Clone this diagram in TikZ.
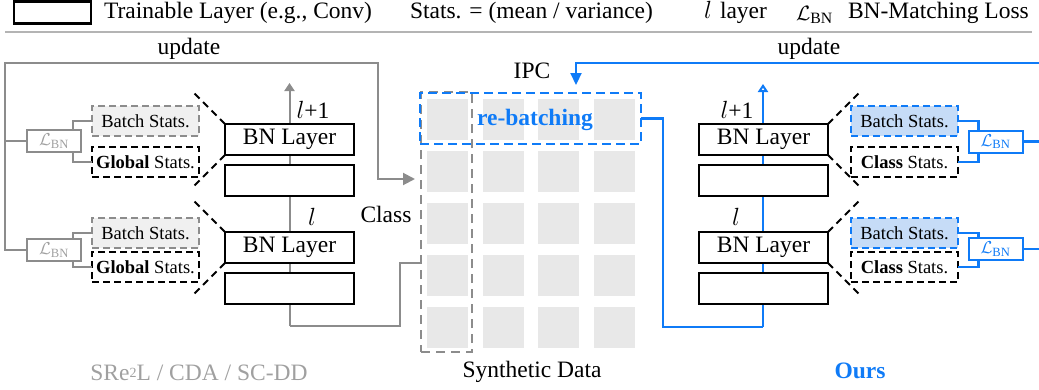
\documentclass[tikz,border=0pt]{standalone}
\usepackage{fontspec}
\setmainfont{Liberation Serif}
\usetikzlibrary{arrows.meta}
\definecolor{ublue}{HTML}{0F7BF7}
\definecolor{lgray}{HTML}{8C8C8C}
\definecolor{tgray}{HTML}{A0A0A0}
\definecolor{sqgray}{HTML}{E8E8E8}
\definecolor{bgray}{HTML}{F0F0F0}
\definecolor{lblue}{HTML}{C6DCF7}
\definecolor{sepgray}{HTML}{B4B4B4}
\newcommand{\bigf}{\fontsize{23.5}{28}\selectfont}
\newcommand{\smf}{\fontsize{18.5}{22}\selectfont}
\newcommand{\LBN}{$\mathcal{L}_{\mathrm{BN}}$}
\begin{document}
\begin{tikzpicture}[x=1pt,y=-1pt,
  every node/.style={inner sep=0pt, outer sep=0pt},
  txt/.style={font=\bigf, anchor=base},
  layerbox/.style={draw=black, fill=white, line width=2.6pt, minimum width=129pt, minimum height=31pt, anchor=north west, font=\bigf},
  statbox/.style={line width=2pt, dash pattern=on 7pt off 4pt, minimum width=107pt, minimum height=30pt, anchor=north west, font=\smf},
  graystat/.style={statbox, draw=lgray, fill=bgray},
  blackstat/.style={statbox, draw=black, fill=white},
  bluestat/.style={statbox, draw=ublue, fill=lblue},
  lossbox/.style={draw, line width=2pt, minimum width=54pt, minimum height=22pt, font=\fontsize{18}{20}\selectfont},
  grayloss/.style={lossbox, draw=lgray, text=tgray},
  blueloss/.style={lossbox, draw=ublue, text=ublue},
  sq/.style={fill=sqgray, minimum width=41pt, minimum height=41pt, anchor=north west},
  grayline/.style={draw=lgray, line width=2pt},
  blueline/.style={draw=ublue, line width=2.2pt},
  zoomline/.style={draw=black, line width=2pt, dash pattern=on 7pt off 5pt}
]
\useasboundingbox (0,0) rectangle (1039,389);

% ---------- legend ----------
\node[layerbox, minimum width=77pt, minimum height=22pt] (legbox) at (14,1.5) {};
\node[txt, anchor=base west] (legtrain) at (104,18) {Trainable Layer (e.g., Conv)};
\node[txt, anchor=base west] (legstats) at (410,18) {Stats. = (mean / variance)};
\node[txt, anchor=base west] (legl) at (704,18) {$l$};
\node[txt, anchor=base west] (leglayer) at (720,18) {layer};
\node[txt, anchor=base west, font=\fontsize{22.5}{26}\selectfont] (legloss) at (796,20) {\LBN};
\node[txt, anchor=base west] (leglosstxt) at (848,18) {BN-Matching Loss};
\draw[sepgray, line width=1.4pt] (5,32) -- (1032,32);

% ---------- synthetic data grid ----------
\foreach \r in {0,...,4} {
  \foreach \c in {0,...,3} {
    \node[sq] (sq\r\c) at ({427+55.7*\c},{99+52*\r}) {};
  }
}
\node[draw=lgray, line width=2pt, dash pattern=on 9pt off 6pt, minimum width=51pt, minimum height=260pt, anchor=north west] (classbox) at (421,92) {};
\node[draw=ublue, line width=2.2pt, dash pattern=on 9pt off 5pt, minimum width=221pt, minimum height=51pt, anchor=north west] (rebatch) at (420,93) {};
\node[txt, font=\bigf\bfseries, text=ublue] (rebatchlab) at (535,125) {re-batching};
\node[txt] (ipc) at (532,78) {IPC};
\node[txt] (classlab) at (386,222) {Class};
\node[txt] (synlab) at (532,377) {Synthetic Data};

% ---------- left (baseline) ----------
\coordinate (lbot) at (289.5,326);
\coordinate (ltop) at (289.5,83);
\coordinate (lbend) at (400,326);
\coordinate (cin) at (420,263);
\draw[grayline] (cin) -| (lbend) -- (lbot);
\draw[grayline, -{Triangle[length=8pt,width=10pt]}] (lbot) -- (ltop);

\node[layerbox] (lbn1) at (225,124) {BN Layer};
\node[layerbox] (lt1) at (225,165) {};
\node[layerbox] (lbn0) at (225,232) {BN Layer};
\node[layerbox] (lt0) at (225,273) {};
\draw[zoomline] (lbn1.north west) -- ++(-33,-33);
\draw[zoomline] (lbn1.south west) -- ++(-33,33);
\draw[zoomline] (lbn0.north west) -- ++(-33,-33);
\draw[zoomline] (lbn0.south west) -- ++(-33,33);

\node[graystat] (lb1) at (92,106) {Batch Stats.};
\node[blackstat] (lg1) at (92,147) {\textbf{Global} Stats.};
\node[graystat] (lb0) at (92,218) {Batch Stats.};
\node[blackstat] (lg0) at (92,252) {\textbf{Global} Stats.};

\node[grayloss] (ll1) at (54,141) {\LBN};
\node[grayloss] (ll0) at (54,250) {\LBN};
\draw[grayline] ([xshift=-8pt]ll1.north east) |- (lb1.west);
\draw[grayline] ([xshift=-8pt]ll1.south east) |- (lg1.west);
\draw[grayline] ([xshift=-8pt]ll0.north east) |- (lb0.west);
\draw[grayline] ([xshift=-8pt]ll0.south east) |- (lg0.west);

\coordinate (lu) at (5,63);
\coordinate (lturn) at (378,179);
\coordinate (gin) at (415,179);
\draw[grayline] (ll1.west) -- (ll1.west -| lu);
\draw[grayline, -{Triangle[length=12pt,width=12pt]}] (ll0.west) -| (lu) -| (lturn) -- (gin);

\node[txt] (lupd) at (189,54) {update};
\node[txt] (ll1lab) at (313,118) {$l$+1};
\node[txt] (ll0lab) at (312,225) {$l$};
\node[txt, text=tgray] (lname) at (199,380) {SRe\raisebox{2.5pt}{\fontsize{14}{14}\selectfont 2}L / CDA / SC-DD};

% ---------- right (ours) ----------
\coordinate (rbend) at (663,327);
\coordinate (rbot) at (763,327);
\coordinate (rtop) at (763,84);
\draw[blueline] (rebatch.east) -| (rbend) -- (rbot);
\draw[blueline, -{Triangle[open,length=8pt,width=10pt]}] (rbot) -- (rtop);

\node[layerbox] (rbn1) at (699,124) {BN Layer};
\node[layerbox] (rt1) at (699,165) {};
\node[layerbox] (rbn0) at (699,232) {BN Layer};
\node[layerbox] (rt0) at (699,273) {};
\draw[zoomline] (rbn1.north east) -- ++(33,-33);
\draw[zoomline] (rbn1.south east) -- ++(33,33);
\draw[zoomline] (rbn0.north east) -- ++(33,-33);
\draw[zoomline] (rbn0.south east) -- ++(33,33);

\node[bluestat] (rb1) at (851,106) {Batch Stats.};
\node[blackstat] (rc1) at (851,147) {\textbf{Class} Stats.};
\node[bluestat] (rb0) at (851,218) {Batch Stats.};
\node[blackstat] (rc0) at (851,252) {\textbf{Class} Stats.};

\node[blueloss] (rl1) at (995.5,141.5) {\LBN};
\node[blueloss] (rl0) at (995.5,249) {\LBN};
\draw[blueline] ([xshift=10pt]rl1.north west) |- (rb1.east);
\draw[blueline] ([xshift=10pt]rl1.south west) |- (rc1.east);
\draw[blueline] ([xshift=10pt]rl0.north west) |- (rb0.east);
\draw[blueline] ([xshift=10pt]rl0.south west) |- (rc0.east);

\coordinate (ru) at (1046,63);
\coordinate (ipcin) at (576,85);
\draw[blueline] (rl1.east) -- (rl1.east -| ru);
\draw[blueline, -{Triangle[length=12pt,width=11pt]}] (rl0.east) -| (ru) -| (ipcin);

\node[txt] (rupd) at (809,54) {update};
\node[txt] (rl1lab) at (737,118) {$l$+1};
\node[txt] (rl0lab) at (736,225) {$l$};
\node[txt, text=ublue, font=\bigf\bfseries] (rname) at (860,378) {Ours};
\end{tikzpicture}
\end{document}
